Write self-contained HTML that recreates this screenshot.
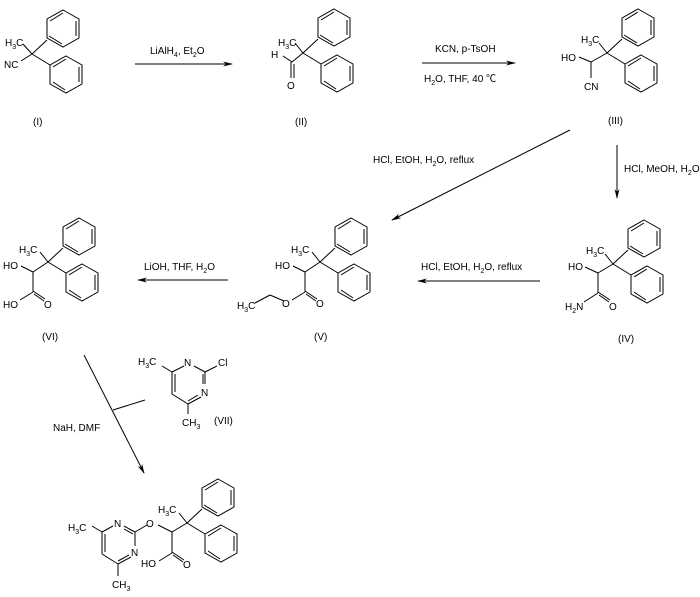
<!DOCTYPE html>
<html><head><meta charset="utf-8"><style>
body{margin:0;background:#fff}
svg{display:block}
text{font-family:"Liberation Sans","Noto Sans CJK SC",sans-serif;font-size:10px;fill:#000}
.s{font-size:7px}
</style></head><body>
<svg width="700" height="597" viewBox="0 0 700 597" stroke="#000" stroke-width="1" fill="none">
<defs>
<g id="dp">
<line x1="0" y1="0" x2="15" y2="-14"/>
<polygon points="31,-44 47,-35 47,-16 31,-7 15,-16 15,-35"/>
<line x1="44" y1="-33" x2="44" y2="-18"/><line x1="30" y1="-10" x2="17" y2="-18"/><line x1="18" y1="-33" x2="31" y2="-41"/>
<line x1="0" y1="0" x2="18" y2="11"/>
<polygon points="34,2 50,11 50,30 34,39 18,30 18,11"/>
<line x1="47" y1="13" x2="47" y2="28"/><line x1="33" y1="36" x2="21" y2="28"/><line x1="21" y1="13" x2="34" y2="5"/>
</g>
<marker id="ah" markerWidth="10" markerHeight="6" refX="9" refY="3" orient="auto" markerUnits="userSpaceOnUse"><path d="M0,0.5 L10,3 L0,5.5 L3,3 Z" fill="#000" stroke="none"/></marker>
</defs>

<!-- I -->
<use href="#dp" x="32" y="54"/>
<line x1="32" y1="54" x2="23" y2="44"/><line x1="32" y1="54" x2="21" y2="61"/>
<!-- II -->
<use href="#dp" x="303" y="53"/>
<line x1="303" y1="53" x2="295" y2="43"/><line x1="303" y1="53" x2="292" y2="62"/><line x1="292" y1="62" x2="283" y2="56"/>
<line x1="291" y1="62" x2="291" y2="78"/><line x1="294" y1="64" x2="294" y2="78"/>
<!-- III -->
<use href="#dp" x="607" y="53"/>
<line x1="607" y1="53" x2="599" y2="43"/><line x1="607" y1="53" x2="591" y2="62"/><line x1="591" y1="62" x2="579" y2="57"/><line x1="591" y1="62" x2="591" y2="78"/>
<!-- IV -->
<use href="#dp" x="613" y="264"/>
<line x1="613" y1="264" x2="605" y2="254"/><line x1="613" y1="264" x2="598" y2="273"/><line x1="598" y1="273" x2="585" y2="267"/><line x1="598" y1="273" x2="598" y2="293"/>
<line x1="598" y1="293" x2="584" y2="302"/><line x1="598" y1="292" x2="610" y2="300"/><line x1="599" y1="295" x2="609" y2="302"/>
<!-- V -->
<use href="#dp" x="320" y="262"/>
<line x1="320" y1="262" x2="312" y2="252"/><line x1="320" y1="262" x2="305" y2="272"/><line x1="305" y1="272" x2="293" y2="266"/><line x1="305" y1="272" x2="305" y2="292"/>
<line x1="305" y1="292" x2="292" y2="300"/><line x1="305" y1="291" x2="317" y2="299"/><line x1="306" y1="294" x2="316" y2="301"/>
<line x1="284" y1="301" x2="270" y2="295"/><line x1="270" y1="295" x2="255" y2="303"/>
<!-- VI -->
<use href="#dp" x="48" y="262"/>
<line x1="48" y1="262" x2="40" y2="252"/><line x1="48" y1="262" x2="33" y2="272"/><line x1="33" y1="272" x2="21" y2="266"/><line x1="33" y1="272" x2="33" y2="292"/>
<line x1="33" y1="292" x2="20" y2="300"/><line x1="33" y1="291" x2="45" y2="299"/><line x1="34" y1="294" x2="44" y2="301"/>
<!-- VII -->
<line x1="194" y1="366" x2="205" y2="372"/><line x1="205" y1="372" x2="217" y2="366"/><line x1="205" y1="372" x2="205" y2="384"/><line x1="203" y1="374" x2="203" y2="384"/>
<line x1="201" y1="397" x2="188" y2="404"/><line x1="198" y1="395" x2="188" y2="401"/>
<line x1="188" y1="404" x2="172" y2="394"/><line x1="172" y1="394" x2="172" y2="372"/><line x1="175" y1="392" x2="175" y2="374"/>
<line x1="172" y1="372" x2="184" y2="366"/><line x1="172" y1="372" x2="162" y2="366"/><line x1="188" y1="404" x2="188" y2="414"/>
<!-- final -->
<use href="#dp" x="187" y="523"/>
<line x1="187" y1="523" x2="179" y2="513"/><line x1="187" y1="523" x2="172" y2="532"/><line x1="172" y1="532" x2="158" y2="525"/><line x1="172" y1="532" x2="172" y2="553"/>
<line x1="172" y1="553" x2="159" y2="561"/><line x1="172" y1="552" x2="184" y2="560"/><line x1="173" y1="555" x2="183" y2="562"/>
<line x1="147" y1="525" x2="135" y2="532"/><line x1="135" y1="532" x2="124" y2="526"/><line x1="133" y1="534" x2="124" y2="529"/>
<line x1="135" y1="532" x2="135" y2="546"/><line x1="131" y1="557" x2="118" y2="564"/><line x1="129" y1="555" x2="118" y2="561"/>
<line x1="118" y1="564" x2="102" y2="554"/><line x1="102" y1="554" x2="102" y2="532"/><line x1="105" y1="552" x2="105" y2="534"/>
<line x1="102" y1="532" x2="113" y2="526"/><line x1="102" y1="532" x2="92" y2="526"/><line x1="118" y1="564" x2="118" y2="576"/>

<!-- arrows -->
<line x1="135" y1="64" x2="232" y2="64" marker-end="url(#ah)"/>
<line x1="422" y1="63" x2="515" y2="63" marker-end="url(#ah)"/>
<line x1="570" y1="130" x2="392" y2="220" marker-end="url(#ah)"/>
<line x1="617" y1="145" x2="617" y2="198" marker-end="url(#ah)"/>
<line x1="540" y1="281" x2="418" y2="281" marker-end="url(#ah)"/>
<line x1="228" y1="280" x2="138" y2="280" marker-end="url(#ah)"/>
<line x1="84" y1="355" x2="144" y2="473" marker-end="url(#ah)"/>
<line x1="113" y1="410" x2="145" y2="400"/>

<g stroke="none">
<text x="5" y="46">H<tspan class="s" dy="3">3</tspan><tspan dy="-3">C</tspan></text>
<text x="4" y="68">NC</text>
<text x="33" y="125">(I)</text>
<text x="150" y="54">LiAlH<tspan class="s" dy="3">4</tspan><tspan dy="-3">, Et</tspan><tspan class="s" dy="3">2</tspan><tspan dy="-3">O</tspan></text>
<text x="278" y="46">H<tspan class="s" dy="3">3</tspan><tspan dy="-3">C</tspan></text>
<text x="271" y="58">H</text>
<text x="287" y="89">O</text>
<text x="295" y="125">(II)</text>
<text x="435" y="52">KCN, p-TsOH</text>
<text x="424" y="82">H<tspan class="s" dy="3">2</tspan><tspan dy="-3">O, THF, 40 ℃</tspan></text>
<text x="581" y="43">H<tspan class="s" dy="3">3</tspan><tspan dy="-3">C</tspan></text>
<text x="561" y="61">HO</text>
<text x="584" y="90">CN</text>
<text x="608" y="124">(III)</text>
<text x="373" y="163">HCl, EtOH, H<tspan class="s" dy="3">2</tspan><tspan dy="-3">O, reflux</tspan></text>
<text x="624" y="172">HCl, MeOH, H<tspan class="s" dy="3">2</tspan><tspan dy="-3">O</tspan></text>
<text x="586" y="254">H<tspan class="s" dy="3">3</tspan><tspan dy="-3">C</tspan></text>
<text x="568" y="270">HO</text>
<text x="565" y="310">H<tspan class="s" dy="3">2</tspan><tspan dy="-3">N</tspan></text>
<text x="609" y="310">O</text>
<text x="618" y="342">(IV)</text>
<text x="421" y="270">HCl, EtOH, H<tspan class="s" dy="3">2</tspan><tspan dy="-3">O, reflux</tspan></text>
<text x="291" y="253">H<tspan class="s" dy="3">3</tspan><tspan dy="-3">C</tspan></text>
<text x="275" y="269">HO</text>
<text x="237" y="309">H<tspan class="s" dy="3">3</tspan><tspan dy="-3">C</tspan></text>
<text x="282" y="307">O</text>
<text x="316" y="307">O</text>
<text x="314" y="340">(V)</text>
<text x="144" y="270">LiOH, THF, H<tspan class="s" dy="3">2</tspan><tspan dy="-3">O</tspan></text>
<text x="19" y="253">H<tspan class="s" dy="3">3</tspan><tspan dy="-3">C</tspan></text>
<text x="3" y="269">HO</text>
<text x="3" y="308">HO</text>
<text x="44" y="308">O</text>
<text x="42" y="340">(VI)</text>
<text x="138" y="365">H<tspan class="s" dy="3">3</tspan><tspan dy="-3">C</tspan></text>
<text x="184" y="366">N</text>
<text x="218" y="366">Cl</text>
<text x="201" y="396">N</text>
<text x="182" y="426">CH<tspan class="s" dy="3">3</tspan></text>
<text x="214" y="424">(VII)</text>
<text x="53" y="431">NaH, DMF</text>
<text x="68" y="531">H<tspan class="s" dy="3">3</tspan><tspan dy="-3">C</tspan></text>
<text x="114" y="527">N</text>
<text x="131" y="556">N</text>
<text x="146" y="527">O</text>
<text x="112" y="588">CH<tspan class="s" dy="3">3</tspan></text>
<text x="158" y="513">H<tspan class="s" dy="3">3</tspan><tspan dy="-3">C</tspan></text>
<text x="141" y="567">HO</text>
<text x="183" y="568">O</text>
</g>
</svg>
</body></html>
